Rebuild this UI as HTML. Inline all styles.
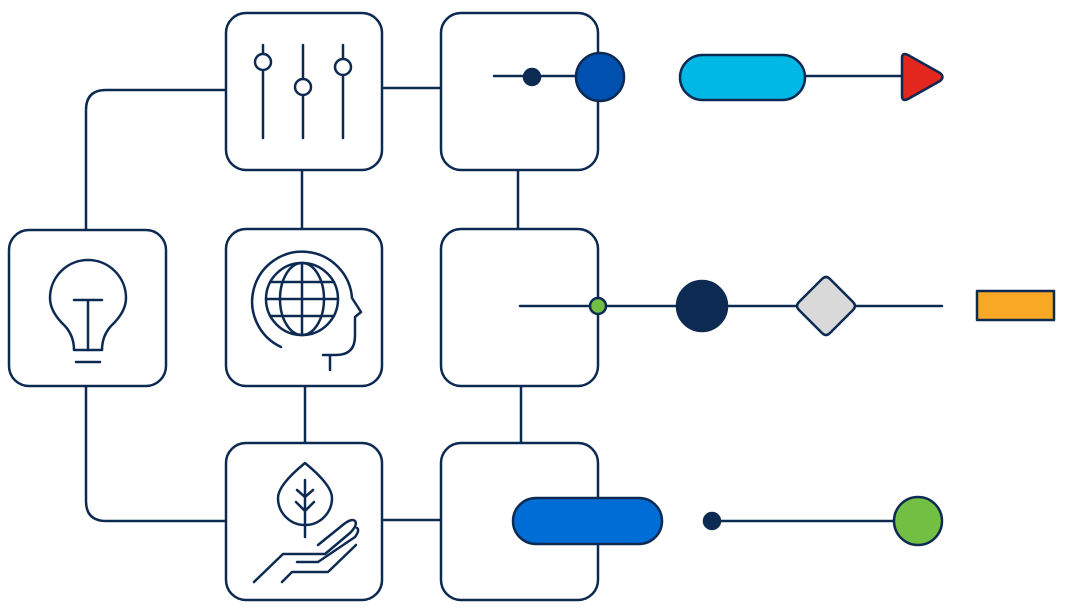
<!DOCTYPE html>
<html><head><style>html,body{margin:0;padding:0;background:#fff}svg{display:block}</style></head>
<body>
<svg width="1088" height="612" viewBox="0 0 1088 612" xmlns="http://www.w3.org/2000/svg">
<g fill="none" stroke="#0d2a52" stroke-width="2.5" stroke-linecap="round" stroke-linejoin="round">
<!-- connectors -->
<path d="M86 230 V110 Q86 90 106 90 H226"/>
<path d="M86 386 V501 Q86 521 106 521 H226"/>
<path d="M302 170 V229"/><path d="M305 386 V443"/>
<path d="M382 88 H441"/><path d="M382 520 H441"/>
<path d="M518 170 V229"/><path d="M521 386 V443"/>
<path d="M494 76 H578"/><path d="M805 76 H905"/>
<path d="M520 306 H942"/><path d="M712 521 H895"/>
<!-- boxes -->
<rect x="9" y="230" width="157" height="156" rx="20" fill="#fff"/>
<rect x="226" y="13" width="156" height="157" rx="20" fill="#fff"/>
<rect x="226" y="229" width="156" height="157" rx="20" fill="#fff"/>
<rect x="226" y="443" width="156" height="157" rx="20" fill="#fff"/>
<rect x="441" y="13" width="157" height="157" rx="20" fill="#fff"/>
<rect x="441" y="229" width="157" height="157" rx="20" fill="#fff"/>
<rect x="441" y="443" width="157" height="157" rx="20" fill="#fff"/>
<path d="M494 76 H578"/><path d="M520 306 H598"/>
<!-- sliders -->
<path d="M263 45V138M303 45V138M343 45V138"/>
<circle cx="263" cy="62" r="8" fill="#fff"/><circle cx="303" cy="87" r="8" fill="#fff"/><circle cx="343" cy="67" r="8" fill="#fff"/>
<!-- bulb -->
<path d="M74 350 Q74 336 65 326 Q50 312 50 298 A38 38 0 1 1 126 298 Q126 312 111 326 Q102 336 102 350 Z"/>
<path d="M74 300H102M88 300V350M76 362H100"/>
<!-- globe head -->
<circle cx="302" cy="299" r="36"/>
<ellipse cx="302" cy="299" rx="22" ry="36"/>
<path d="M302 263V335M266 299H338M270 282H334M270 316H334"/>
<path d="M281 347 A50 50 0 1 1 352 298 L361 312 L355 317 V336 Q355 355 336 355 H323 M330 355V370"/>
<!-- leaf hand -->
<path d="M305 463 Q278 485 278 498 A27 27 0 0 0 332 498 Q332 485 305 463 Z"/>
<path d="M305 480V537M297 490L305 497L313 490M296 502L305 511L314 502"/>
<path d="M254 582 L283 554 H325 L350 533 Q358 525 355 521 Q352 518 344 524 L318 545 M297 562 H318 L355 537 Q360 530 357 528 M282 582 L292 572 H328 L356 545"/>
<!-- shapes row1 -->
<circle cx="532" cy="77" r="8" fill="#0d2a52"/>
<circle cx="600" cy="77" r="24" fill="#0050b0"/>
<rect x="680" y="55" width="125" height="45" rx="22.5" fill="#00b8e6"/>
<path d="M902 58 Q902 52 908 55 L940 73 Q945 77 940 81 L908 99 Q902 102 902 96 Z" fill="#e3261e"/>
<!-- row2 -->
<circle cx="598" cy="306" r="8" fill="#72bf44"/>
<circle cx="702" cy="306" r="25" fill="#0d2a52"/>
<path d="M822 279 Q826 275 830 279 L853 302 Q857 306 853 310 L830 333 Q826 337 822 333 L799 310 Q795 306 799 302 Z" fill="#d9d9d9"/>
<rect x="977" y="291" width="77" height="29" fill="#f9a825"/>
<!-- row3 -->
<rect x="513" y="498" width="149" height="46" rx="23" fill="#006dd6"/>
<circle cx="712" cy="521" r="8" fill="#0d2a52"/>
<circle cx="918" cy="521" r="24" fill="#72bf44"/>
</g>
</svg>
</body></html>
